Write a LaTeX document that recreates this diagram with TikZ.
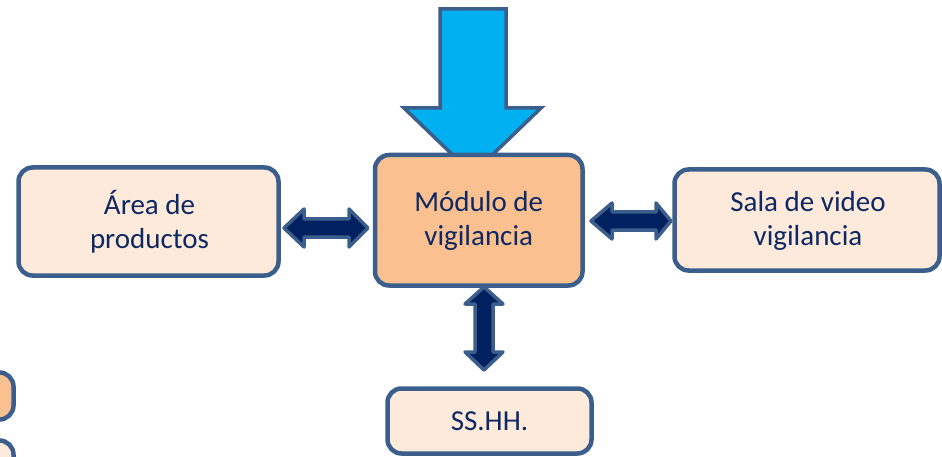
\documentclass[tikz,border=0pt]{standalone}
\usepackage{fontspec}
\setmainfont{Carlito}
\definecolor{bord}{RGB}{59,94,140}
\definecolor{lightfill}{RGB}{253,234,218}
\definecolor{orangefill}{RGB}{250,192,144}
\definecolor{cyanfill}{RGB}{0,176,240}
\definecolor{navy}{RGB}{0,32,96}
\definecolor{txt}{RGB}{14,40,100}
\begin{document}
\begin{tikzpicture}[x=1pt,y=-1pt,
  box/.style={draw=bord,line width=4.5pt,rounded corners=14pt},
  lbl/.style={text=txt,font=\fontsize{29}{34}\selectfont,align=center},
  dbl/.style={draw=bord,fill=navy,line width=3.5pt,line join=round},
  big/.style={draw=bord,fill=cyanfill,line width=3.5pt,line join=miter}]
\useasboundingbox (0,0) rectangle (942,457);
\clip (0,0) rectangle (942,457);
% big input arrow (behind the module box)
\draw[big] (440,9) -- (506,9) -- (506,108) -- (541,108) -- (472.5,174) -- (404,108) -- (440,108) -- cycle;
% boxes
\path[box,fill=lightfill] (18.5,167.5) rectangle (278.5,275.5);
\node[lbl] (area) at (149.5,222) {Área de\\productos};
\path[box,fill=orangefill] (375,155) rectangle (582.5,285.5);
\node[lbl] (mod) at (478.75,221) {Módulo de\\vigilancia};
\path[box,fill=lightfill] (674.5,169.5) rectangle (939.5,270.5);
\node[lbl] (sala) at (808,221) {Sala de video\\vigilancia};
\path[box,fill=lightfill] (387.5,388.5) rectangle (591.5,453.5);
\node[lbl] (ss) at (489.5,421) {SS.HH.};
% partial boxes at left edge
\path[box,fill=orangefill] (-100,372.5) rectangle (13.5,419.5);
\path[box,fill=lightfill] (-100,440.5) rectangle (13.5,520);
% double arrows
\draw[dbl] (284,228) -- (304,209) -- (304,219) -- (349,219) -- (349,209) -- (368,228) -- (349,247) -- (349,237) -- (304,237) -- (304,247) -- cycle;
\draw[dbl] (591,221) -- (612,203) -- (612,212) -- (656,212) -- (656,203) -- (671,221) -- (656,239) -- (656,230) -- (612,230) -- (612,239) -- cycle;
\draw[dbl] (484,287) -- (503,304) -- (493,304) -- (493,352) -- (503,352) -- (484,370) -- (465,352) -- (475,352) -- (475,304) -- (465,304) -- cycle;
\end{tikzpicture}
\end{document}
